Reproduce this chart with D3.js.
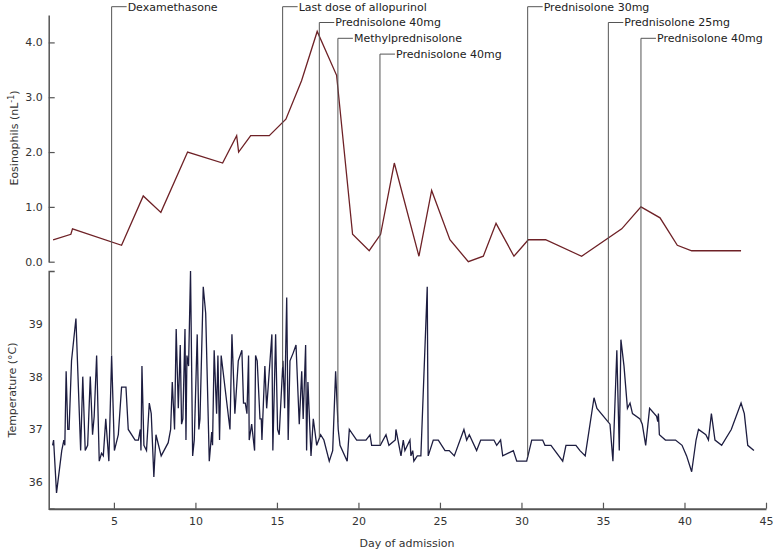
<!DOCTYPE html>
<html lang="en">
<head>
<meta charset="UTF-8">
<title>Eosinophils and temperature</title>
<style>
*{margin:0;padding:0;}
body{background:#fff;}
svg text{font-family:"DejaVu Sans",Verdana,sans-serif;}
</style>
</head>
<body>
<div id="container"></div>
<script src="https://cdn.jsdelivr.net/npm/d3@7/dist/d3.min.js"></script>
<script>
// [day, eosinophils nL^-1]
var eosSeries = [[1.27,0.4],[2.36,0.5],[2.46,0.6],[5.47,0.3],[6.8,1.2],[7.88,0.9],[9.52,2.0],[11.67,1.8],[12.53,2.3],[12.65,2.0],
	[13.39,2.3],[14.53,2.3],[15.55,2.6],[16.51,3.3],[17.47,4.2],[18.66,3.4],[19.64,0.5],[20.66,0.2],[21.36,0.5],[22.2,1.8],
	[23.71,0.1],[24.49,1.3],[25.61,0.4],[26.74,0.0],[27.66,0.1],[28.44,0.7],[29.54,0.1],[30.42,0.4],[31.48,0.4],[33.69,0.1],
	[36.15,0.6],[37.33,1.0],[38.5,0.8],[39.56,0.3],[40.44,0.2],[43.47,0.2]]

// [day, temperature °C]
var tempSeries = [[1.24,36.7],[1.30,36.8],[1.48,35.8],[1.80,36.6],[1.93,36.8],[1.99,36.7],[2.07,38.1],[2.17,37.0],[2.25,37.0],[2.40,38.3],
	[2.67,39.1],[2.96,36.6],[3.09,38.0],[3.24,36.6],[3.39,36.7],[3.55,38.0],[3.69,36.9],[3.79,37.25],[3.94,38.4],[4.10,36.4],
	[4.24,36.55],[4.35,36.5],[4.50,37.2],[4.69,36.4],[4.86,38.4],[5.03,36.6],[5.27,36.9],[5.47,37.8],[5.74,37.8],[5.88,37.0],
	[6.30,36.8],[6.50,36.8],[6.62,37.0],[6.66,36.6],[6.72,38.2],[6.84,36.7],[7.00,36.6],[7.17,37.5],[7.29,37.3],[7.45,36.1],
	[7.58,36.9],[7.90,36.5],[8.33,36.75],[8.48,37.0],[8.58,37.9],[8.72,37.0],[8.82,38.9],[8.95,37.4],[9.07,38.6],[9.15,37.1],
	[9.23,37.2],[9.36,38.9],[9.42,36.8],[9.48,38.4],[9.58,38.2],[9.70,40.0],[9.83,36.5],[9.93,36.8],[10.11,38.8],[10.21,37.0],
	[10.28,37.2],[10.48,39.7],[10.63,39.2],[10.85,36.4],[11.00,36.95],[11.05,36.7],[11.15,38.5],[11.30,37.3],[11.38,38.4],[11.48,36.8],
	[11.58,38.4],[12.12,37.0],[12.24,38.8],[12.42,37.3],[12.63,38.3],[12.85,38.5],[12.95,37.5],[13.06,37.5],[13.16,37.3],[13.26,38.4],
	[13.30,36.8],[13.45,37.1],[13.63,36.6],[13.69,38.4],[13.79,38.3],[13.96,37.2],[14.04,37.2],[14.08,36.8],[14.26,38.2],[14.37,37.4],
	[14.69,38.8],[14.75,36.6],[14.92,38.8],[15.04,37.0],[15.14,36.9],[15.37,38.3],[15.47,37.4],[15.60,39.5],[15.69,36.8],[15.80,38.3],
	[16.00,38.45],[16.17,38.6],[16.37,37.1],[16.52,38.1],[16.61,37.2],[16.76,38.6],[16.82,36.6],[16.90,37.9],[17.09,36.5],[17.23,37.2],
	[17.44,36.7],[17.68,36.9],[17.88,36.8],[18.21,36.4],[18.42,36.6],[18.60,38.1],[18.76,37.0],[18.87,36.7],[19.31,36.4],[19.44,37.0],
	[19.89,36.8],[20.46,36.8],[20.71,36.9],[20.81,36.7],[21.34,36.7],[21.69,36.9],[21.87,36.7],[22.26,36.8],[22.30,37.0],[22.61,36.5],
	[22.75,36.8],[22.85,36.6],[23.16,36.8],[23.22,36.5],[23.33,36.6],[23.40,36.4],[23.61,36.5],[23.83,36.5],[24.22,39.7],[24.28,36.5],
	[24.59,36.8],[24.90,36.8],[25.31,36.6],[25.57,36.6],[25.88,36.5],[26.47,37.0],[26.64,36.8],[26.80,36.9],[27.25,36.6],[27.50,36.8],
	[28.31,36.8],[28.48,36.7],[28.72,36.8],[28.85,36.5],[29.50,36.6],[29.71,36.4],[30.32,36.4],[30.63,36.8],[31.30,36.8],[31.44,36.7],
	[31.81,36.7],[32.53,36.4],[32.73,36.7],[33.34,36.7],[33.59,36.6],[33.91,36.5],[34.45,37.6],[34.63,37.4],[35.43,37.1],[35.61,36.4],
	[35.85,38.5],[36.00,36.6],[36.10,38.7],[36.29,38.2],[36.50,37.4],[36.66,37.5],[36.81,37.3],[37.27,37.2],[37.41,37.1],[37.62,36.7],
	[37.86,37.4],[38.29,37.25],[38.36,37.15],[38.40,37.3],[38.46,36.9],[38.83,36.8],[39.45,36.8],[39.85,36.7],[40.13,36.5],[40.44,36.2],
	[40.71,36.8],[40.86,37.0],[41.31,36.9],[41.47,36.8],[41.65,37.3],[41.87,36.8],[42.28,36.7],[42.87,37.0],[43.47,37.5],[43.67,37.3],
	[43.88,36.7],[44.26,36.6]]

var eventDays = [4.86, 15.35, 17.6, 18.74, 21.32, 30.38, 35.33, 37.33]
var eventLabels = ['Dexamethasone', 'Last dose of allopurinol', 'Prednisolone 40mg', 'Methylprednisolone',
	'Prednisolone 40mg', 'Prednisolone 30mg', 'Prednisolone 25mg', 'Prednisolone 40mg']

var xTicks = [5, 10, 15, 20, 25, 30, 35, 40, 45]
var eosTicks = [0, 1, 2, 3, 4]
var tempTicks = [36, 37, 38, 39]

var svg = d3.select('#container').append('svg').attr('width', 775).attr('height', 551)

var x = d3.scaleLinear().domain([1, 45]).range([48.7, 766])
var yEos = d3.scaleLinear().domain([0, 4.5]).range([261.7, 15])
var yTemp = d3.scaleLinear().domain([35.5, 40]).range([508.7, 271])

function styleAxis(g, w) {
	g.attr('font-size', null).attr('font-family', null)
	g.select('.domain').attr('stroke', '#555').attr('stroke-width', w)
	g.selectAll('.tick line').attr('stroke', '#555').attr('stroke-width', 1.2)
	g.selectAll('.tick text').attr('fill', '#333').style('font-size', '11px')
}

// axes
svg.append('g').attr('transform', 'translate(48.7,0)')
	.call(d3.axisLeft(yEos).tickValues(eosTicks).tickFormat(d3.format('.1f'))
		.tickSizeInner(-6).tickSizeOuter(0).tickPadding(6))
	.call(styleAxis, 1.5)

svg.append('g').attr('transform', 'translate(48.7,0)')
	.call(d3.axisLeft(yTemp).tickValues(tempTicks).tickFormat(d3.format('d'))
		.tickSizeInner(0).tickSizeOuter(-6).tickPadding(6))
	.call(styleAxis, 1.5)

svg.append('g').attr('transform', 'translate(0,508.7)')
	.call(d3.axisBottom(x).tickValues(xTicks).tickSizeInner(-6).tickSizeOuter(0).tickPadding(9))
	.call(styleAxis, 2)

// axis titles
var eosTitle = svg.append('text').attr('transform', 'translate(14,138) rotate(-90)')
	.attr('text-anchor', 'middle').attr('dy', '0.35em').attr('fill', '#333').style('font-size', '11px')
eosTitle.append('tspan').text('Eosinophils (nL')
eosTitle.append('tspan').text('-1').attr('baseline-shift', 'super').style('font-size', '8px')
eosTitle.append('tspan').text(')')

svg.append('text').attr('transform', 'translate(12,390) rotate(-90)')
	.attr('text-anchor', 'middle').attr('dy', '0.35em').attr('fill', '#333').style('font-size', '11px')
	.text('Temperature (°C)')

svg.append('text').attr('x', 407).attr('y', 543)
	.attr('text-anchor', 'middle').attr('dy', '0.35em').attr('fill', '#333').style('font-size', '11px')
	.text('Day of admission')

// series
var eosLine = d3.line().x(function(d){return x(d[0])}).y(function(d){return yEos(d[1])})
var tempLine = d3.line().x(function(d){return x(d[0])}).y(function(d){return yTemp(d[1])})

svg.append('path').attr('d', eosLine(eosSeries))
	.attr('fill', 'none').attr('stroke', '#6e2126').attr('stroke-width', 1.3)

svg.append('path').attr('d', tempLine(tempSeries))
	.attr('fill', 'none').attr('stroke', '#1d1d40').attr('stroke-width', 1.3)

// treatment markers: vertical line from the label row down to the temperature curve
var bisect = d3.bisector(function(d){return d[0]}).left
function tempAt(day) {
	var i = bisect(tempSeries, day)
	var a = tempSeries[i - 1], b = tempSeries[i]
	var t = (day - a[0]) / (b[0] - a[0])
	return a[1] + t * (b[1] - a[1])
}

var prevEnd = -Infinity, row = 0
eventDays.forEach(function(day, i) {
	var ex = x(day)
	row = ex < prevEnd + 4 ? row + 1 : 0
	var ey = 6.7 + row * 15.8
	var g = svg.append('g')
	g.append('line').attr('x1', ex).attr('x2', ex).attr('y1', ey).attr('y2', yTemp(tempAt(day)))
		.attr('stroke', '#555').attr('stroke-width', 1)
	g.append('line').attr('x1', ex).attr('x2', ex + 15).attr('y1', ey).attr('y2', ey)
		.attr('stroke', '#555').attr('stroke-width', 1)
	var t = g.append('text').attr('x', ex + 16).attr('y', ey).attr('dy', '0.35em')
		.attr('fill', '#222').style('font-size', '11px').text(eventLabels[i])
	prevEnd = ex + 16 + t.node().getComputedTextLength()
})
</script>
</body>
</html>
